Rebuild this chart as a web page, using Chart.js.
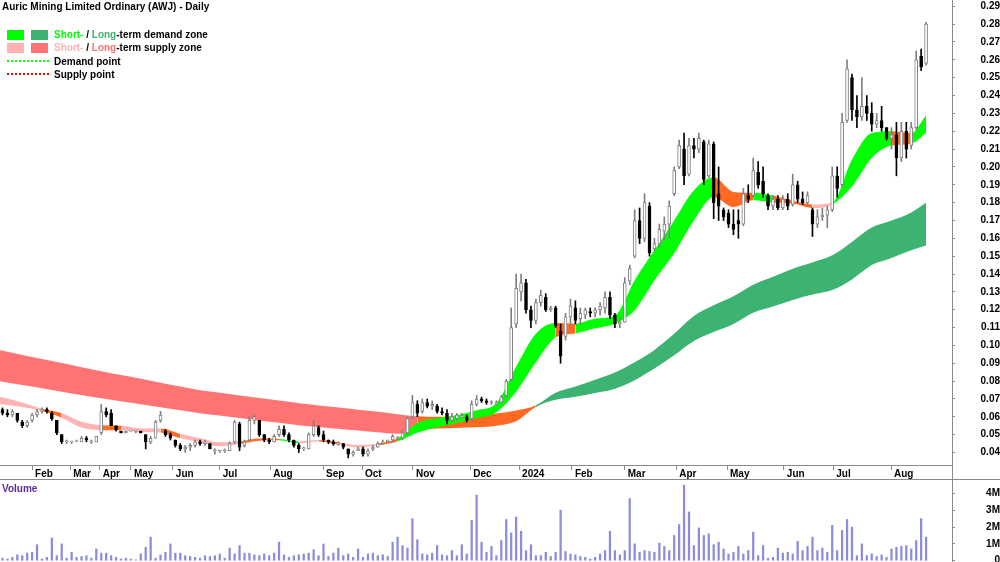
<!DOCTYPE html>
<html>
<head>
<meta charset="utf-8">
<title>AWJ - Daily</title>
<script src="https://cdn.jsdelivr.net/npm/chart.js@4.4.1/dist/chart.umd.min.js"></script>
<style>
  body { margin: 0; background: #fff; }
  #wrap { position: relative; width: 1000px; height: 562px; overflow: hidden; background: #fff;
          font-family: "Liberation Sans", Arial, sans-serif; font-size: 10px; font-weight: bold; color: #000; }
  canvas { position: absolute; left: 0; }
  #price { top: 0; }
  #vol { top: 480px; }
  .txt { position: absolute; white-space: nowrap; line-height: 12px; }
  .sw { position: absolute; width: 17px; height: 10px; }
  .dots { position: absolute; left: 7px; width: 42px; height: 0; border-top: 2px dotted; }
  .hline { position: absolute; left: 0; top: 479px; width: 1000px; height: 1px; background: #8a8a8a; }
  .vline { position: absolute; left: 952px; top: 0; width: 1px; height: 562px; background: #8a8a8a; }
</style>
</head>
<body>
<div id="wrap">
  <canvas id="price" width="1000" height="480"></canvas>
  <canvas id="vol" width="1000" height="82"></canvas>
  <div class="hline"></div>
  <div class="vline"></div>

  <div class="txt" style="left:2px;top:1px">Auric Mining Limited Ordinary (AWJ) - Daily</div>

  <div class="sw" style="left:7px;top:30px;background:#00ff00"></div>
  <div class="sw" style="left:31px;top:30px;background:#3cb371"></div>
  <div class="txt" style="left:54px;top:29px"><span style="color:#00ff00">Short-</span> / <span style="color:#3cb371">Long</span>-term demand zone</div>

  <div class="sw" style="left:7px;top:43px;background:#ffb3b3"></div>
  <div class="sw" style="left:31px;top:43px;background:#ff7373"></div>
  <div class="txt" style="left:54px;top:42px"><span style="color:#ffb3b3">Short-</span> / <span style="color:#ff7373">Long</span>-term supply zone</div>

  <div class="dots" style="top:60px;border-color:#00ff00"></div>
  <div class="txt" style="left:54px;top:56px">Demand point</div>
  <div class="dots" style="top:73px;border-color:#ff0000"></div>
  <div class="txt" style="left:54px;top:69px">Supply point</div>

  <div class="txt" style="left:2px;top:483px;color:#5b2a96">Volume</div>
</div>

<script>
// x axis: one unit = one candle (roughly two trading sessions)
const monthTicks = [6, 13.7, 19.7, 26, 34.5, 44, 54.2, 64.9, 72.8, 83.1, 94.7, 104.6, 115.3, 126, 136.4, 146.7, 158.2, 168.2, 179.9];
const monthLabels = ["Feb", "Mar", "Apr", "May", "Jun", "Jul", "Aug", "Sep", "Oct", "Nov", "Dec", "2024", "Feb", "Mar", "Apr", "May", "Jun", "Jul", "Aug"];
const priceTicks = [0.04, 0.05, 0.06, 0.07, 0.08, 0.09, 0.10, 0.11, 0.12, 0.13, 0.14, 0.15, 0.16, 0.17, 0.18, 0.19, 0.20, 0.21, 0.22, 0.23, 0.24, 0.25, 0.26, 0.27, 0.28, 0.29];
const volTicks = [0, 1, 2, 3, 4];

const openP = [
  .064,.062,.061,.062,.057,.055,.058,.061,.063,.064, .062,.058,.050,.046,.046,.046,.046,.048,.046,.046,
  .051,.063,.062,.055,.052,.051,.052,.052,.052,.050, .046,.048,.058,.052,.050,.047,.044,.042,.043,.044,
  .046,.045,.045,.041,.041,.041,.041,.046,.056,.044, .047,.058,.058,.050,.047,.046,.050,.053,.050,.047,
  .044,.042,.042,.050,.054,.050,.047,.046,.045,.045, .042,.039,.041,.042,.039,.042,.043,.045,.046,.047,
  .048,.048,.051,.060,.067,.063,.068,.066,.066,.063, .062,.058,.059,.060,.060,.059,.067,.070,.069,.068,
  .067,.068,.072,.081,.112,.130,.135,.120,.114,.124, .127,.120,.121,.108,.105,.116,.121,.115,.117,.119,
  .118,.120,.121,.127,.117,.112,.113,.136,.150,.170, .160,.178,.154,.157,.164,.168,.185,.200,.210,.196,
  .212,.210,.214,.195,.213,.185,.176,.174,.168,.170, .168,.184,.184,.197,.192,.184,.178,.182,.177,.182,
  .179,.190,.182,.180,.176,.168,.172,.173,.176,.195, .190,.226,.250,.232,.228,.234,.230,.224,.226,.222,
  .216,.218,.205,.220,.212,.222,.262,.258];
const highP = [
  .065,.064,.064,.062,.058,.058,.062,.064,.065,.065, .063,.058,.050,.047,.046,.047,.049,.049,.047,.049,
  .067,.065,.064,.055,.052,.052,.052,.052,.052,.050, .049,.058,.063,.053,.051,.047,.045,.044,.045,.047,
  .047,.047,.045,.042,.041,.042,.046,.058,.057,.047, .060,.061,.058,.050,.048,.050,.055,.055,.051,.047,
  .045,.043,.051,.058,.055,.052,.047,.047,.046,.045, .042,.041,.043,.043,.042,.044,.046,.047,.047,.050,
  .049,.052,.060,.072,.069,.070,.070,.069,.067,.065, .064,.062,.062,.062,.061,.069,.072,.071,.070,.069,
  .069,.072,.081,.121,.140,.140,.137,.122,.126,.131, .129,.122,.122,.112,.118,.126,.125,.121,.121,.121,
  .121,.124,.130,.130,.118,.116,.138,.145,.176,.177, .185,.180,.160,.168,.172,.181,.200,.215,.219,.216,
  .216,.219,.215,.215,.214,.200,.177,.176,.176,.176, .188,.190,.205,.203,.200,.185,.184,.184,.184,.185,
  .196,.192,.186,.186,.177,.176,.177,.178,.200,.200, .230,.260,.252,.240,.250,.240,.236,.230,.234,.222,
  .222,.225,.225,.225,.225,.265,.266,.281];
const lowP = [
  .061,.060,.060,.057,.054,.054,.057,.060,.062,.062, .058,.050,.045,.045,.045,.046,.046,.046,.045,.046,
  .050,.060,.055,.052,.051,.051,.052,.051,.051,.042, .045,.048,.057,.049,.047,.043,.041,.040,.041,.043,
  .044,.044,.042,.039,.040,.040,.041,.045,.041,.043, .046,.056,.049,.046,.045,.046,.049,.049,.046,.043,
  .040,.041,.042,.049,.049,.046,.045,.044,.044,.042, .037,.038,.041,.038,.038,.041,.043,.045,.046,.046,
  .047,.047,.050,.059,.060,.062,.065,.064,.062,.061, .056,.057,.058,.059,.057,.058,.066,.068,.067,.067,
  .067,.068,.071,.080,.110,.125,.118,.110,.112,.122, .119,.119,.110,.090,.103,.112,.112,.112,.115,.116,
  .116,.117,.118,.115,.110,.110,.113,.134,.149,.157, .158,.150,.153,.155,.159,.160,.184,.199,.190,.195,
  .205,.208,.190,.194,.171,.170,.170,.166,.162,.160, .167,.180,.183,.188,.183,.176,.176,.176,.176,.176,
  .178,.180,.179,.179,.161,.166,.170,.166,.175,.183, .189,.225,.226,.222,.226,.226,.220,.222,.220,.215,
  .210,.195,.203,.205,.210,.221,.254,.257];
const closeP = [
  .062,.061,.063,.058,.055,.057,.061,.063,.064,.063, .059,.051,.046,.046,.046,.046,.048,.047,.046,.049,
  .063,.061,.055,.053,.051,.052,.052,.052,.051,.046, .048,.057,.061,.050,.048,.044,.042,.043,.044,.046,
  .045,.046,.042,.041,.041,.041,.045,.057,.043,.046, .058,.060,.050,.047,.046,.049,.053,.050,.047,.044,
  .042,.042,.050,.055,.050,.047,.046,.045,.045,.043, .039,.040,.042,.039,.041,.043,.045,.046,.047,.049,
  .048,.051,.059,.068,.062,.068,.066,.067,.063,.062, .058,.060,.061,.060,.058,.067,.070,.069,.068,.068,
  .068,.071,.080,.110,.132,.135,.120,.114,.124,.128, .120,.121,.111,.094,.116,.122,.114,.118,.120,.118,
  .120,.122,.127,.117,.112,.113,.135,.143,.170,.160, .180,.152,.157,.165,.168,.178,.198,.212,.195,.212,
  .210,.216,.193,.213,.180,.178,.172,.168,.165,.168, .185,.182,.198,.190,.185,.178,.182,.177,.182,.178,
  .190,.182,.180,.184,.168,.172,.173,.176,.195,.188, .225,.255,.232,.228,.234,.230,.224,.226,.222,.216,
  .218,.205,.220,.210,.222,.260,.256,.280];
// volume, millions of shares
const volumeM = [
  0.15,0.1,0.2,0.35,0.3,0.45,0.5,0.95,0.1,0.2, 1.35,0.3,1.0,0.15,0.5,0.2,0.25,0.3,0.15,0.7,
  0.45,0.45,0.3,0.2,0.1,0.15,0.1,0.05,0.4,0.8, 1.4,0.15,0.35,0.5,1.0,0.45,0.45,0.3,0.25,0.2,
  0.15,0.3,0.25,0.3,0.4,0.15,0.75,0.4,0.9,0.45, 0.45,0.35,0.3,0.4,0.3,0.45,1.1,0.35,0.2,0.3,
  0.35,0.4,0.45,0.65,0.3,1.0,0.25,0.45,0.75,0.3, 0.4,0.2,0.7,0.2,0.4,0.45,0.3,0.35,0.25,1.1,
  1.4,0.9,0.75,2.5,1.25,0.4,0.35,0.45,0.9,0.35, 0.3,0.6,0.3,0.95,0.4,2.4,3.9,1.1,0.5,0.85,
  0.3,1.2,2.45,1.65,2.6,1.75,0.6,0.95,0.3,0.3, 0.5,0.25,0.5,3.0,0.55,0.4,0.35,0.25,0.2,0.1,
  0.2,0.4,0.6,1.75,0.6,0.35,0.6,3.7,1.0,0.5, 0.6,0.55,0.5,1.05,0.85,0.6,1.5,2.15,4.5,2.9,
  0.9,1.95,1.5,1.6,0.95,1.1,0.7,0.4,0.5,0.85, 0.4,0.6,1.7,0.3,0.9,0.15,0.2,0.75,0.45,0.5,
  0.4,1.15,0.6,0.85,1.4,0.6,0.75,0.5,2.1,0.6, 1.8,2.45,2.0,0.3,1.0,0.3,0.4,0.25,0.35,0.2,
  0.7,0.8,0.85,0.9,0.7,1.2,2.5,1.4];

// zone edges, read every 4th candle; zone = state of the stretch starting there
// S = supply, D = demand, T = turning
const bandIdx = [-0.5,4,8,12,16,20,24,28,32,36,40,44,48,52,56,60,64,68,72,76,80,84,88,92,96,100,104,108,112,116,120,124,128,132,136,140,144,148,152,156,160,164,168,172,176,180,184,187];
const shortHi = [
  .0712,.0680,.0645,.0620,.0572,.0553,.0550,.0535,.0535,.0505, .0480,.0457,.0462,.0478,.0476,.0462,.0470,.0458,.0442,.0450,
  .0480,.0566,.0592,.0609,.0637,.0676,.0880,.1065,.1125,.1122, .1150,.1167,.1365,.1533,.1700,.1869,.1942,.1860,.1855,.1840,
  .1810,.1790,.1800,.2040,.2190,.2200,.2190,.2290];
const shortLo = [
  .0672,.0655,.0632,.0595,.0540,.0525,.0525,.0515,.0512,.0480, .0458,.0435,.0448,.0466,.0468,.0452,.0462,.0445,.0428,.0440,
  .0462,.0510,.0541,.0566,.0592,.0626,.0740,.0905,.1045,.1067, .1096,.1122,.1197,.1365,.1516,.1700,.1830,.1775,.1813,.1800,
  .1795,.1770,.1790,.1890,.2050,.2120,.2130,.2190];
const shortZone = [
  "S","S","T","S","S","T","S","S","T","S", "S","S","T","T","D","S","T","S","S","T",
  "D","D","D","D","D","D","D","D","T","D", "D","D","D","D","D","D","T","T","D","T",
  "T","S","D","D","D","T","D","D"];
const longHi = [
  .0973,.0947,.0924,.0901,.0878,.0855,.0834,.0813,.0791,.0770, .0749,.0735,.0720,.0705,.0691,.0676,.0664,.0652,.0640,.0628,
  .0615,.0603,.0600,.0602,.0608,.0618,.0635,.0665,.0735,.0770, .0808,.0848,.0905,.0975,.1065,.1165,.1225,.1275,.1340,.1385,
  .1430,.1465,.1505,.1580,.1660,.1700,.1745,.1800];
const longLo = [
  .0799,.0778,.0760,.0741,.0722,.0704,.0687,.0670,.0654,.0637, .0620,.0607,.0593,.0580,.0567,.0553,.0543,.0533,.0523,.0513,
  .0505,.0525,.0535,.0538,.0541,.0550,.0575,.0655,.0695,.0712, .0733,.0757,.0805,.0870,.0945,.1025,.1075,.1120,.1183,.1218,
  .1255,.1285,.1310,.1370,.1450,.1490,.1533,.1560];
const longZone = [
  "S","S","S","S","S","S","S","S","S","S", "S","S","S","S","S","S","S","S","S","S",
  "S","T","T","T","T","T","T","D","D","D", "D","D","D","D","D","D","D","D","D","D",
  "D","D","D","D","D","D","D","D"];

Chart.defaults.font.family = '"Liberation Sans", Arial, sans-serif';
Chart.defaults.font.size = 10;
Chart.defaults.font.weight = "bold";
Chart.defaults.color = "#000";

const zoneColours = {
  short: { D: "#00ff00", S: "#ffb3b3", T: "#ff6a22" },
  long: { D: "#3cb371", S: "#ff7373", T: "#ff6a22" }
};
const axisGrey = "#8a8a8a";
const xMin = -0.5, xMax = 192.25;

const idx = closeP.map((c, i) => i);
const rising = i => closeP[i] >= openP[i];

function bandLine(values, zones, kind, fill, order) {
  return {
    type: "line",
    data: bandIdx.map((x, k) => ({ x: x, y: values[k] })),
    borderWidth: 0,
    borderColor: "rgba(0,0,0,0)",
    pointRadius: 0,
    cubicInterpolationMode: "monotone",
    fill: fill,
    backgroundColor: zoneColours[kind].S,
    segment: { backgroundColor: c => zoneColours[kind][zones[c.p0DataIndex]] },
    order: order
  };
}

const priceSets = [
  {
    type: "bar",
    data: idx.map(i => ({ x: i, y: [Math.min(openP[i], closeP[i]), Math.max(openP[i], closeP[i])] })),
    backgroundColor: idx.map(i => rising(i) ? "#ffffff" : "#000000"),
    borderColor: idx.map(i => rising(i) ? "#808080" : "#000000"),
    borderWidth: 1,
    borderSkipped: false,
    barThickness: 3,
    minBarLength: 1,
    grouped: false,
    order: 0
  },
  {
    type: "bar",
    data: idx.map(i => ({ x: i, y: [lowP[i], highP[i]] })),
    backgroundColor: idx.map(i => rising(i) ? "#808080" : "#000000"),
    barThickness: 1,
    minBarLength: 1,
    grouped: false,
    order: 1
  },
  bandLine(shortHi, shortZone, "short", false, 2),
  bandLine(shortLo, shortZone, "short", "-1", 2),
  bandLine(longHi, longZone, "long", false, 3),
  bandLine(longLo, longZone, "long", "-1", 3)
];

new Chart(document.getElementById("price"), {
  type: "bar",
  data: { datasets: priceSets },
  options: {
    responsive: false,
    animation: false,
    events: [],
    layout: { padding: 0 },
    plugins: { legend: { display: false }, tooltip: { enabled: false } },
    scales: {
      x: {
        type: "linear", min: xMin, max: xMax, offset: false,
        afterBuildTicks: s => { s.ticks = monthTicks.map(v => ({ value: v })); },
        afterFit: s => { s.height = 15; s.paddingLeft = 0; s.paddingRight = 0; },
        grid: { drawOnChartArea: false, tickLength: 5, color: axisGrey, offset: false },
        border: { color: axisGrey },
        ticks: { autoSkip: false, maxRotation: 0, align: "start", labelOffset: 3, padding: -2,
                 callback: (v, i) => monthLabels[i] }
      },
      y: {
        type: "linear", position: "right", min: 0.0330, max: 0.29353,
        afterBuildTicks: s => { s.ticks = priceTicks.map(v => ({ value: v })); },
        afterFit: s => { s.width = 48; s.paddingTop = 0; s.paddingBottom = 0; },
        grid: { drawOnChartArea: false, tickLength: 3, color: axisGrey },
        border: { color: axisGrey },
        ticks: { crossAlign: "far", padding: 24, callback: v => v.toFixed(2) }
      }
    }
  }
});

new Chart(document.getElementById("vol"), {
  type: "bar",
  data: {
    datasets: [{
      data: idx.map(i => ({ x: i, y: volumeM[i] })),
      backgroundColor: "#8c8cdc",
      barThickness: 1.6
    }]
  },
  options: {
    responsive: false,
    animation: false,
    events: [],
    layout: { padding: 0 },
    plugins: { legend: { display: false }, tooltip: { enabled: false } },
    scales: {
      x: { type: "linear", min: xMin, max: xMax, offset: false, display: false },
      y: {
        type: "linear", position: "right", min: -0.077, max: 4.80,
        afterBuildTicks: s => { s.ticks = volTicks.map(v => ({ value: v })); },
        afterFit: s => { s.width = 48; s.paddingTop = 0; s.paddingBottom = 0; },
        grid: { drawOnChartArea: false, tickLength: 3, color: axisGrey },
        border: { color: axisGrey },
        ticks: { crossAlign: "far", padding: 30, callback: v => v === 0 ? "0" : v + "M" }
      }
    }
  }
});
</script>
</body>
</html>
